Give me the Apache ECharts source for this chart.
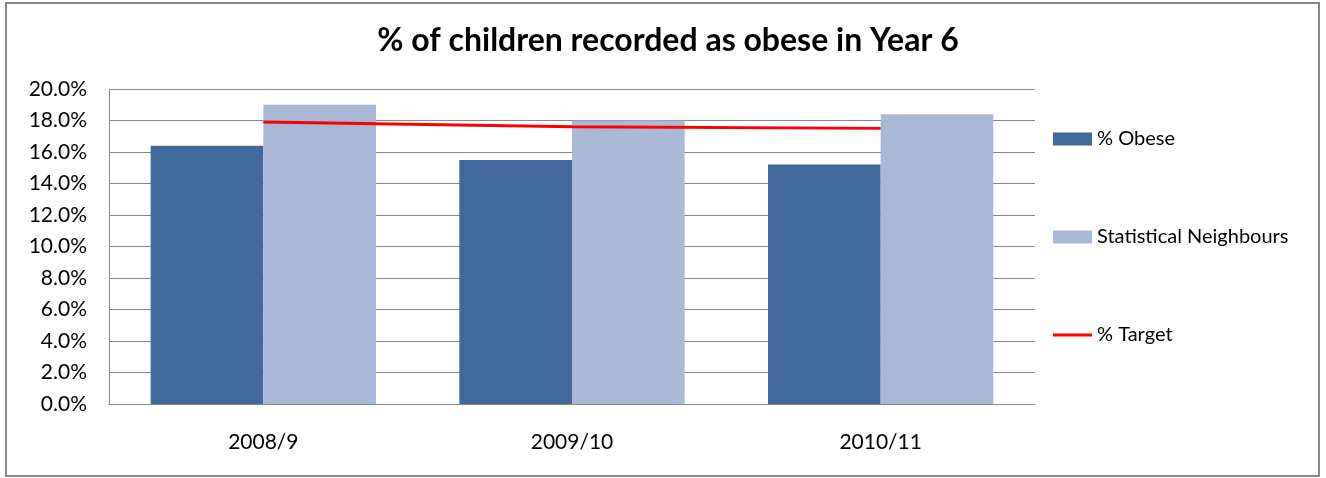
<!DOCTYPE html>
<html>
<head>
<meta charset="utf-8">
<script src="https://cdn.jsdelivr.net/npm/echarts@6/dist/echarts.min.js"></script>
<style>
  html, body { margin: 0; padding: 0; background: #fff; }
  #chart { width: 1326px; height: 478px; }
</style>
</head>
<body>
<div id="chart"></div>
<script>
    // data
    const years = ['2008/9', '2009/10', '2010/11'];
    const obese = [16.4, 15.5, 15.2];
    const neighbours = [19.0, 18.0, 18.4];
    const target = [17.9, 17.6, 17.5];

    const font = 'Lato, "Open Sans", sans-serif';

    var chart = echarts.init(document.getElementById('chart'));

    const option = {
        animation: false,
        backgroundColor: '#fff',
        title: {
            text: '% of children recorded as obese in Year 6',
            left: 663,
            textAlign: 'center',
            top: 20,
            textStyle: {
                fontFamily: font,
                fontSize: 32,
                fontWeight: 'bold',
                color: '#000'
            }
        },
        legend: {
            orient: 'vertical',
            left: 1048,
            top: 124,
            itemWidth: 39,
            itemHeight: 13,
            itemGap: 78,
            textStyle: { fontFamily: font, fontSize: 20, color: '#000' },
            data: [
                { name: '% Obese', icon: 'rect' },
                { name: 'Statistical Neighbours', icon: 'rect' },
                // flat bar so the legend shows a plain red line
                { name: '% Target', icon: 'path://M0,0H40V3H0Z' }
            ]
        },
        graphic: [
            {
                type: 'rect',
                shape: { x: 6, y: 3, width: 1313, height: 473 },
                style: { fill: 'none', stroke: '#888', lineWidth: 2 },
                silent: true
            }
        ],
        grid: {
            left: 109,
            right: 291,
            top: 89,
            bottom: 74
        },
        xAxis: {
            type: 'category',
            data: years,
            axisLine: { lineStyle: { color: '#888', width: 1 } },
            axisTick: { show: false },
            axisLabel: {
                fontFamily: font,
                fontSize: 21,
                color: '#000',
                margin: 28
            }
        },
        yAxis: {
            type: 'value',
            min: 0,
            max: 20,
            interval: 2,
            axisLine: { show: true, lineStyle: { color: '#888', width: 1 } },
            axisTick: { show: false },
            splitLine: { lineStyle: { color: '#888', width: 1 } },
            axisLabel: {
                fontFamily: font,
                fontSize: 21,
                color: '#000',
                margin: 22,
                formatter: v => v.toFixed(1) + '%'
            }
        },
        series: [
            {
                name: '% Obese',
                type: 'bar',
                data: obese,
                barGap: 0,
                barCategoryGap: '27%',
                itemStyle: { color: '#41699A' }
            },
            {
                name: 'Statistical Neighbours',
                type: 'bar',
                data: neighbours,
                barGap: 0,
                barCategoryGap: '27%',
                itemStyle: { color: '#AAB9D7' }
            },
            {
                name: '% Target',
                type: 'line',
                data: target,
                symbol: 'none',
                z: 5,
                lineStyle: { color: '#FF0000', width: 3 },
                itemStyle: { color: '#FF0000' }
            }
        ]
    };

    chart.setOption(option);
</script>
</body>
</html>
